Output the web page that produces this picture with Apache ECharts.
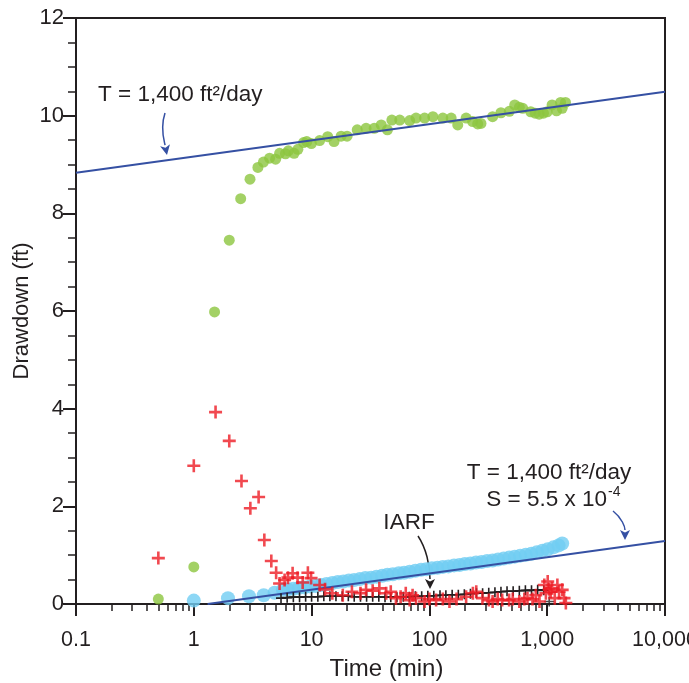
<!DOCTYPE html>
<html>
<head>
<meta charset="utf-8">
<script src="https://cdn.jsdelivr.net/npm/echarts@6/dist/echarts.min.js"></script>
<style>
  html, body { margin: 0; padding: 0; background: #fff; }
  #chart { width: 689px; height: 683px; }
</style>
</head>
<body>
<div id="chart"></div>
<script>
// observation well, drawdown (green dots) [time min, drawdown ft]
const greenObs = [
  [0.5, 0.1], [1, 0.76], [1.5, 5.98], [2, 7.45], [2.5, 8.3], [3, 8.7], [3.5, 8.94], [3.9, 9.05],
  [4.4, 9.13], [4.95, 9.11], [5.35, 9.23], [6.0, 9.22], [6.35, 9.28], [7.1, 9.23], [7.65, 9.31],
  [8.55, 9.45], [9.1, 9.47], [9.95, 9.43], [11.7, 9.49], [13.7, 9.57], [15.5, 9.47], [17.8, 9.58],
  [20, 9.58], [24.4, 9.71], [29, 9.74], [34, 9.74], [39, 9.81], [44, 9.71], [48, 9.91], [56, 9.91],
  [68, 9.9], [77, 9.95], [91, 9.95], [107, 9.98], [130, 9.95], [153, 9.95], [174, 9.81], [205, 9.95],
  [233, 9.88], [257, 9.83], [274, 9.84], [344, 9.98], [405, 10.06], [477, 10.09], [530, 10.22],
  [580, 10.17], [620, 10.15], [725, 10.08], [790, 10.05], [855, 10.03], [930, 10.05], [1000, 10.08],
  [1100, 10.22], [1200, 10.1], [1300, 10.27], [1340, 10.15], [1430, 10.27]
];
// pumping-side drawdown (light blue dots)
const blueObs = [
  [1, 0.07], [1.95, 0.12], [2.94, 0.16], [3.92, 0.18], [4.85, 0.23], [5.7, 0.29], [6.3, 0.3],
  [7, 0.31], [7.8, 0.33], [8.7, 0.34], [9.7, 0.36], [10.8, 0.37], [12, 0.39], [13.4, 0.41],
  [15, 0.43], [16.7, 0.45], [18.6, 0.46], [20.7, 0.48], [23, 0.49], [25.7, 0.51], [28.6, 0.53],
  [32, 0.54], [35.6, 0.56], [39.7, 0.58], [44, 0.6], [49, 0.61], [55, 0.63], [61, 0.64], [68, 0.66],
  [76, 0.68], [85, 0.7], [94, 0.71], [105, 0.73], [117, 0.74], [130, 0.76], [145, 0.77], [162, 0.79],
  [180, 0.8], [200, 0.82], [223, 0.83], [249, 0.85], [277, 0.86], [309, 0.88], [344, 0.89],
  [383, 0.91], [427, 0.93], [476, 0.95], [530, 0.97], [590, 0.99], [658, 1.01], [733, 1.03],
  [816, 1.06], [910, 1.09], [1010, 1.12], [1130, 1.16], [1250, 1.2], [1340, 1.24]
];
// derivative of green (red crosses)
const redDeriv = [
  [0.5, 0.94], [1, 2.83], [1.53, 3.93], [2, 3.34], [2.54, 2.52], [3.02, 1.96], [3.55, 2.19],
  [3.97, 1.31], [4.55, 0.88], [5.0, 0.64], [5.35, 0.42], [5.9, 0.49], [6.3, 0.54], [6.9, 0.63],
  [7.6, 0.54], [8.4, 0.44], [9.3, 0.64], [9.9, 0.53], [11.7, 0.39], [13, 0.3], [15, 0.22],
  [18.4, 0.18], [22, 0.25], [26, 0.22], [29, 0.29], [33, 0.27], [37.6, 0.32], [43, 0.22], [47, 0.25],
  [52, 0.12], [57, 0.15], [63, 0.22], [68, 0.08], [72, 0.18], [77, 0.12], [91, 0.05], [100, 0.1],
  [114, 0.08], [130, 0.1], [148, 0.05], [170, 0.1], [205, 0.15], [234, 0.22], [250, 0.25],
  [282, 0.12], [320, 0.08], [344, 0.05], [380, 0.1], [415, 0.08], [475, 0.08], [510, 0.1],
  [580, 0.05], [640, 0.1], [680, 0.12], [750, 0.1], [800, 0.18], [860, 0.05], [945, 0.39],
  [975, 0.22], [1010, 0.46], [1040, 0.3], [1070, 0.25], [1100, 0.32], [1160, 0.12], [1220, 0.39],
  [1260, 0.25], [1340, 0.29], [1390, 0.12], [1440, 0.02]
];
// derivative of light blue (black crosses + line)
const blackDeriv = [
  [5.5, 0.12], [6.2, 0.13], [7, 0.14], [7.9, 0.14], [8.9, 0.15], [10, 0.15], [11.3, 0.15],
  [12.7, 0.16], [14.3, 0.16], [16.1, 0.16], [18.2, 0.16], [20.5, 0.16], [23, 0.15], [26, 0.15],
  [29.3, 0.15], [33, 0.15], [37.2, 0.15], [42, 0.14], [47, 0.14], [53, 0.14], [60, 0.15],
  [67.5, 0.15], [76, 0.16], [86, 0.16], [97, 0.17], [109, 0.17], [123, 0.18], [138, 0.18],
  [156, 0.19], [176, 0.19], [198, 0.2], [223, 0.21], [251, 0.22], [283, 0.22], [319, 0.23],
  [360, 0.24], [405, 0.25], [456, 0.26], [514, 0.26], [580, 0.27], [653, 0.28], [736, 0.28],
  [830, 0.29], [935, 0.28]
];
const blackExtra = [[1040, 0.05]];
// straight-line fits, T = 1,400 ft2/day
const fitUpper = [[0.1, 8.83], [10000, 10.49]];
const fitLower = [[1.31, 0], [10000, 1.29]];

const xTicks = [0.1, 1, 10, 100, 1000, 10000];
const yTicks = [0, 2, 4, 6, 8, 10, 12];

const INK = '#231f20';
const LINE_BLUE = '#3550a3';
const PLUS = 'path://M0,4L10,4L10,6L0,6Z M4,0L6,0L6,10L4,10Z';
const PLUS_THIN = 'path://M0,4.2L10,4.2L10,5.8L0,5.8Z M4.2,0L5.8,0L5.8,10L4.2,10Z';
const FONT = 'Liberation Sans';

var myChart = echarts.init(document.getElementById('chart'));

function arrow(x1, y1, cx1, cy1, cx2, cy2, x2, y2, color) {
    // curved shaft + head at (x2, y2)
    const ang = Math.atan2(y2 - cy2, x2 - cx2);
    const L = 10, W = 5;
    const bx = x2 - L * Math.cos(ang), by = y2 - L * Math.sin(ang);
    const px = -Math.sin(ang) * W, py = Math.cos(ang) * W;
    return [
        {
            type: 'bezierCurve',
            shape: { x1: x1, y1: y1, cpx1: cx1, cpy1: cy1, cpx2: cx2, cpy2: cy2, x2: bx, y2: by },
            style: { stroke: color, lineWidth: 1.5, fill: null }
        },
        {
            type: 'polygon',
            shape: { points: [[x2, y2], [bx + px, by + py], [bx + 0.25 * (x2 - bx), by + 0.25 * (y2 - by)], [bx - px, by - py]] },
            style: { fill: color }
        }
    ];
}

const txt = (x, y, s, align, size) => ({
    type: 'text', x: x, y: y,
    style: { text: s, fontSize: size || 22.5, fontFamily: FONT, fill: INK, align: align, verticalAlign: 'middle' }
});

const option = {
    animation: false,
    backgroundColor: '#fff',
    grid: {
        left: 76, right: 24, top: 18, bottom: 79,
        outerBoundsMode: 'none',
        containLabel: false,
        show: true, borderColor: INK, borderWidth: 2, backgroundColor: 'transparent'
    },
    xAxis: {
        type: 'log',
        logBase: 10,
        min: xTicks[0],
        max: xTicks[xTicks.length - 1],
        name: 'Time (min)',
        nameLocation: 'middle',
        nameGap: 53,
        nameMoveOverlap: false,
        nameTextStyle: { color: INK, fontSize: 24, fontFamily: FONT, padding: [0, 0, 0, 32] },
        axisLine: { onZero: false, lineStyle: { color: INK, width: 2 } },
        axisTick: { show: true, length: 12, lineStyle: { color: INK, width: 2 } },
        minorTick: { show: true, splitNumber: 9, length: 7, lineStyle: { color: INK, width: 1.5 } },
        splitLine: { show: false },
        axisLabel: {
            color: INK, fontSize: 21.5, fontFamily: FONT, margin: 25,
            formatter: v => v >= 1000 ? Number(v).toLocaleString('en-US') : String(v)
        }
    },
    yAxis: {
        type: 'value',
        min: yTicks[0],
        max: yTicks[yTicks.length - 1],
        interval: 2,
        name: 'Drawdown (ft)',
        nameLocation: 'middle',
        nameGap: 43,
        nameMoveOverlap: false,
        nameTextStyle: { color: INK, fontSize: 22, fontFamily: FONT },
        axisLine: { lineStyle: { color: INK, width: 2 } },
        axisTick: { show: true, length: 13, lineStyle: { color: INK, width: 2 } },
        minorTick: { show: true, splitNumber: 4, length: 8, lineStyle: { color: INK, width: 1.5 } },
        splitLine: { show: false },
        axisLabel: { color: INK, fontSize: 22, fontFamily: FONT, margin: 12 }
    },
    series: [
        {
            name: 'obs', type: 'scatter', data: greenObs,
            symbol: 'circle', symbolSize: 11,
            itemStyle: { color: '#8cc63f' }, z: 2
        },
        {
            name: 'pump', type: 'scatter', data: blueObs,
            symbol: 'circle', symbolSize: 14,
            itemStyle: { color: '#71cdf3' }, z: 2
        },
        {
            name: 'fit upper', type: 'line', data: fitUpper, showSymbol: false,
            lineStyle: { color: LINE_BLUE, width: 2 }, z: 3
        },
        {
            name: 'fit lower', type: 'line', data: fitLower, showSymbol: false,
            lineStyle: { color: LINE_BLUE, width: 2 }, z: 3
        },
        {
            name: 'deriv black', type: 'line', data: blackDeriv,
            symbol: PLUS_THIN, symbolSize: 10, showAllSymbol: true,
            lineStyle: { color: INK, width: 1.6 }, itemStyle: { color: INK }, z: 4
        },
        {
            name: 'deriv black end', type: 'scatter', data: blackExtra,
            symbol: PLUS_THIN, symbolSize: 10, itemStyle: { color: INK }, z: 4
        },
        {
            name: 'deriv red', type: 'scatter', data: redDeriv,
            symbol: PLUS, symbolSize: 13,
            itemStyle: { color: '#ed1c24' }, z: 5
        }
    ],
    graphic: [
        txt(98, 95, 'T = 1,400 ft²/day', 'left'),
        ...arrow(165, 113, 160, 128, 164, 140, 167, 155, LINE_BLUE),
        txt(549, 473, 'T = 1,400 ft²/day', 'center'),
        txt(607, 500, 'S = 5.5 x 10', 'right'),
        txt(608, 492, '-4', 'left', 14),
        ...arrow(613, 511, 622, 518, 625, 527, 625, 540, LINE_BLUE),
        txt(409, 523, 'IARF', 'center'),
        ...arrow(418, 536, 426, 548, 430, 565, 430, 589, INK)
    ]
};

myChart.setOption(option);
</script>
</body>
</html>
